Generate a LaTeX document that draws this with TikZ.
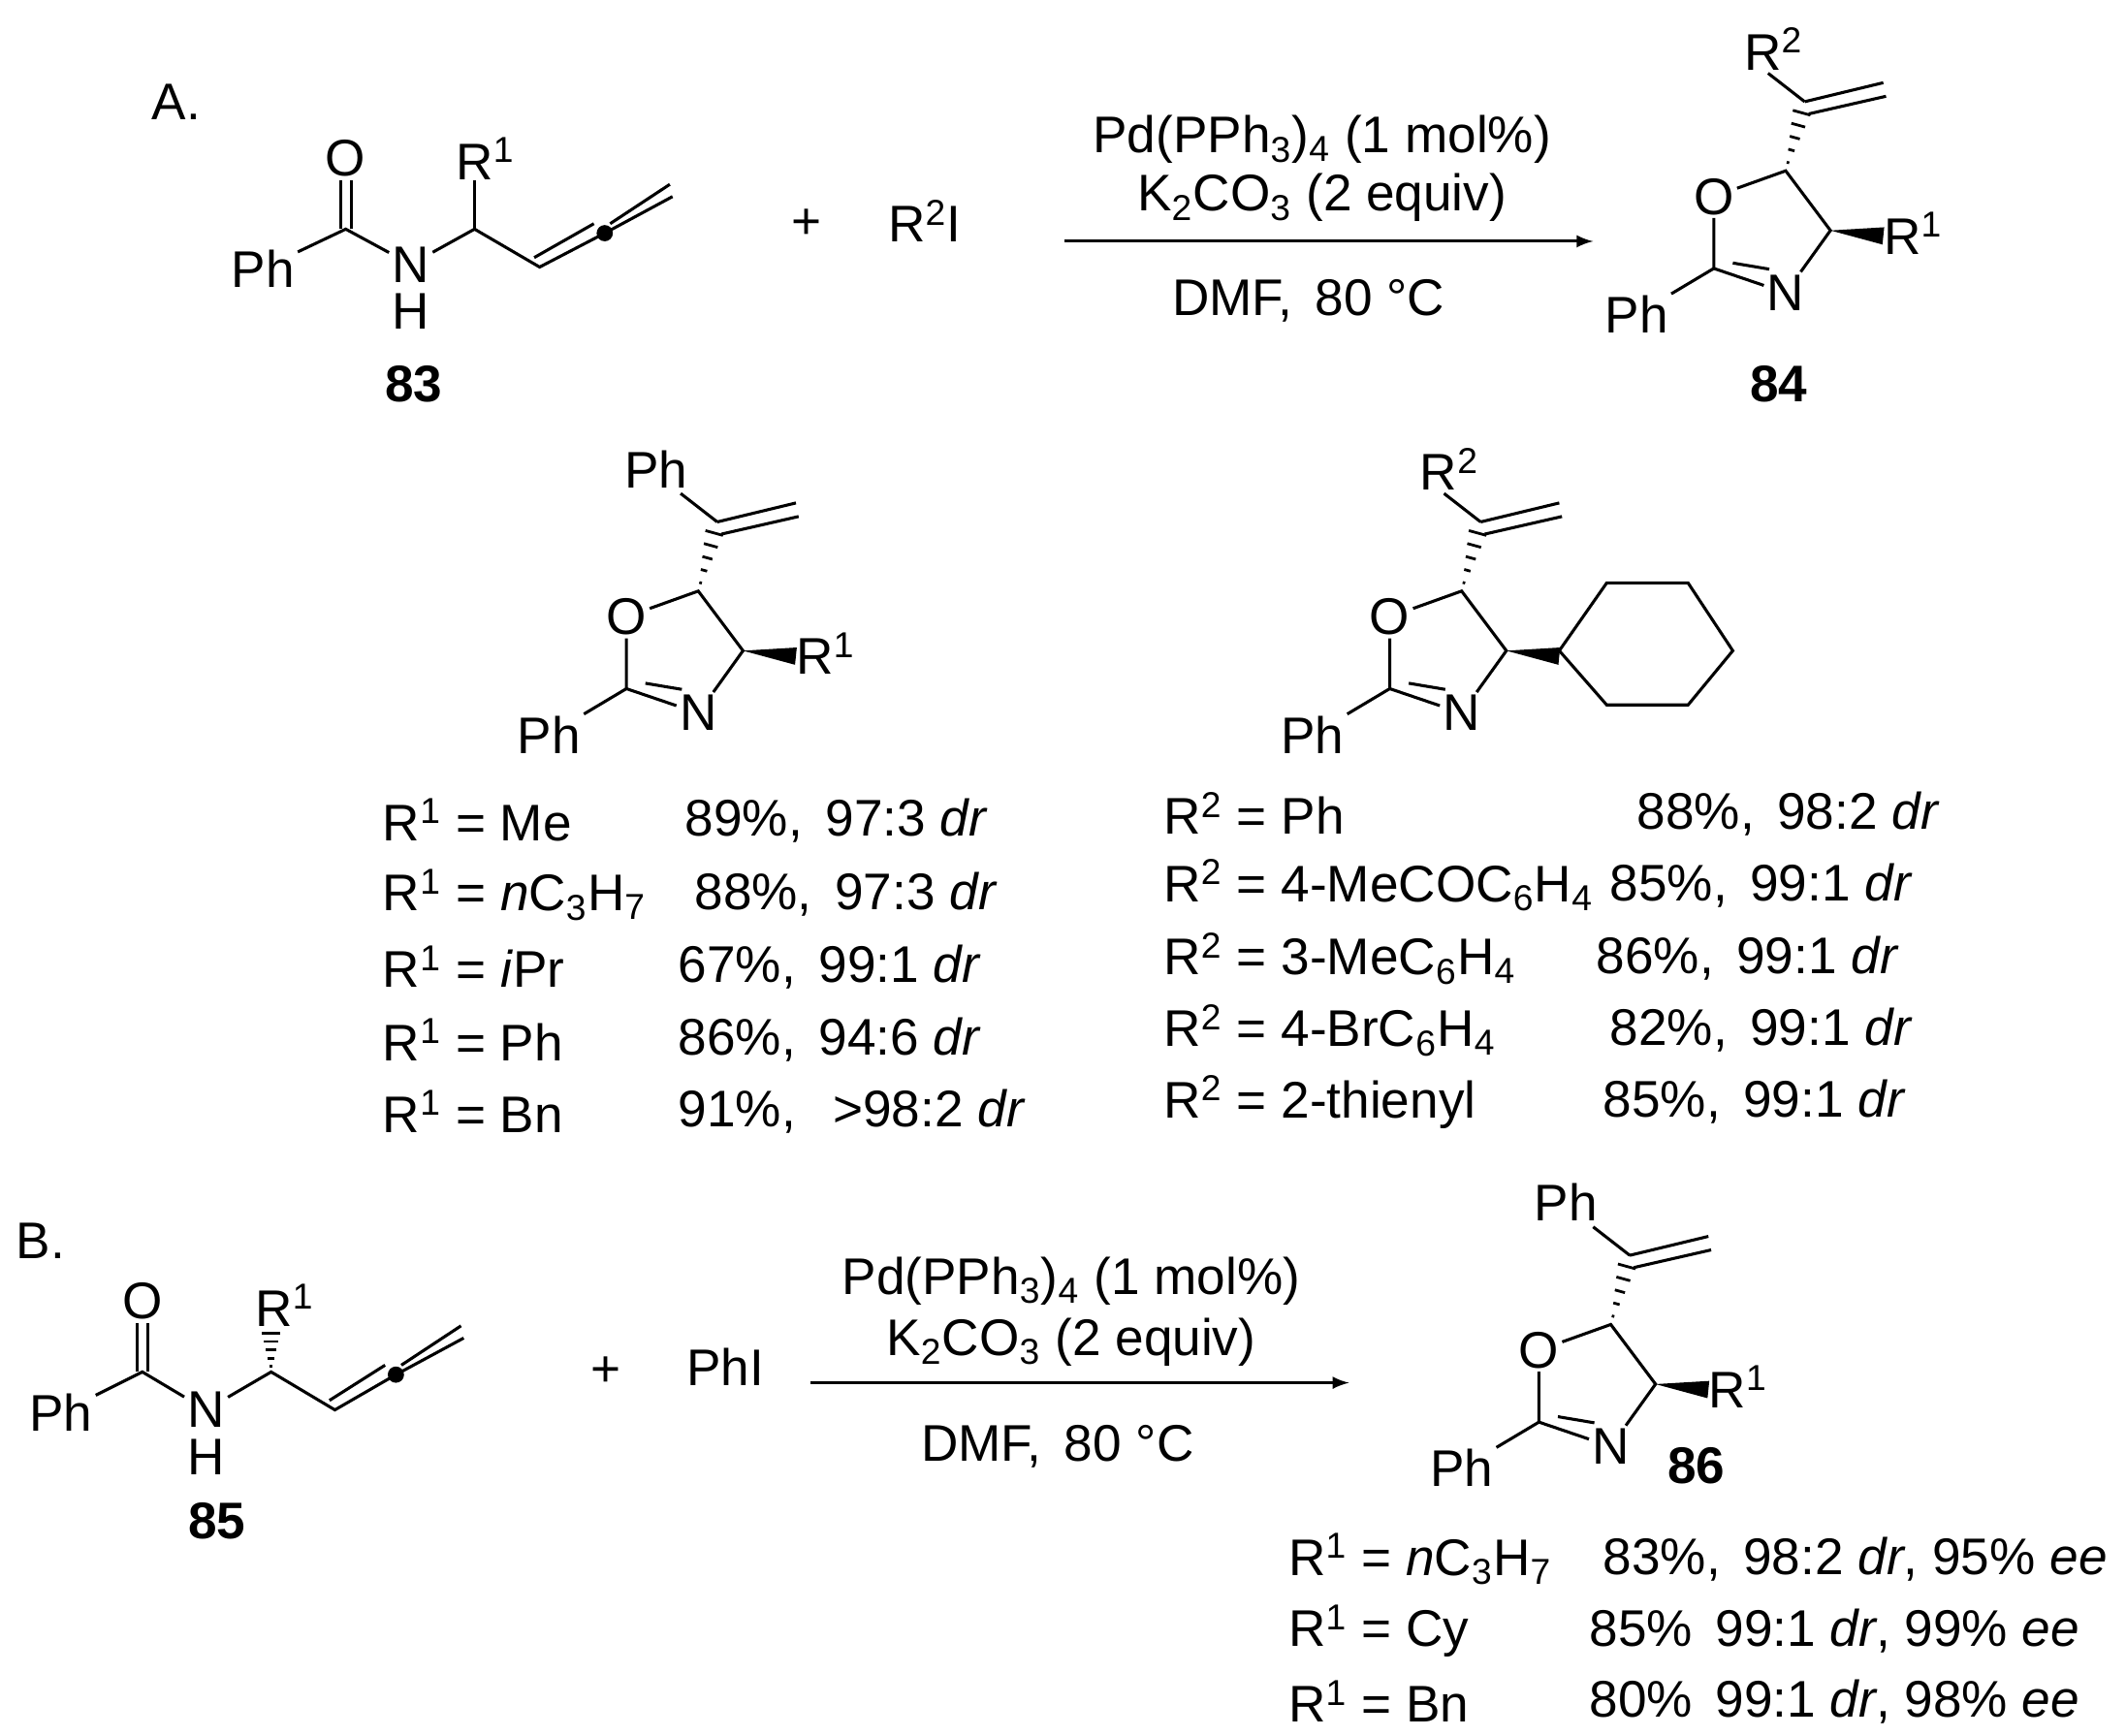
\documentclass[tikz,border=0pt]{standalone}
\usepackage{fontspec}
\setmainfont{Liberation Sans}
\usetikzlibrary{calc}
\tikzset{atom/.style={inner sep=1pt,font=\fontsize{19}{21}\selectfont},
 lbl/.style={anchor=west,inner sep=0pt,font=\fontsize{19}{21}\selectfont},
 bnd/.style={line width=1.1pt},
 arr/.style={line width=1.1pt,-latex}}
\newcommand\sps[1]{\textsuperscript{#1}}
\newcommand\sbs[1]{\textsubscript{#1}}
\newcommand\hashb[2]{\foreach \t in {0.12,0.3,...,0.95}{\draw[line width=1pt] ($(#1)!\t!(#2)!{4pt*\t}!90:(#2)$) -- ($(#1)!\t!(#2)!{4pt*\t}!-90:(#2)$);}}
\newcommand\wedgeb[2]{\fill ($(#1)$) -- ($(#2)!3.2pt!90:(#1)$) -- ($(#2)!3.2pt!-90:(#1)$) -- cycle;}
% oxazoline: #1 name, #2 O position, #3 top label, #4 right label, #5 top label x
\newcommand\oxaz[5]{
 \begin{scope}[shift={#2}]
 \node[atom] (#1O) at (0,0) {O};
 \coordinate (#1C5) at (53,-19);
 \coordinate (#1C4) at (86,25);
 \node[atom] (#1N) at (53,71) {N};
 \coordinate (#1C2) at (0,53);
 \node[atom] (#1Ph) at (-57,87) {Ph};
 \coordinate (#1V) at (67,-70);
 \coordinate (#1E) at (125,-84);
 \coordinate (#1Va) at (70,-61);
 \coordinate (#1Eb) at (127,-74);
 \node[atom] (#1T) at (#5,-109) {#3};
 \coordinate (#1Tb) at (40,-91);
 \coordinate (#1W) at (125,29);
 \node[atom,anchor=west,inner sep=0pt] (#1R) at (125,27) {#4};
 \end{scope}
 \draw[bnd] (#1O) -- (#1C5) -- (#1C4) -- (#1N);
 \draw[bnd] (#1O) -- (#1C2) -- (#1N);
 \draw[bnd] ($(#1C2)+(14,-4)$) -- ($(#1N.north west)+(4,-2)$);
 \draw[bnd] (#1C2) -- (#1Ph);
 \hashb{#1C5}{#1V}
 \draw[bnd] (#1V) -- (#1E);
 \draw[bnd] (#1Va) -- (#1Eb);
 \draw[bnd] (#1V) -- (#1Tb);
 \wedgeb{#1C4}{#1W}
}
\begin{document}
\begin{tikzpicture}[x=0.5pt,y=-0.5pt]
\useasboundingbox (0,0) rectangle (1568,1280);
% ---------- A ----------
\node[atom] (labA) at (130,75) {A.};
\node[atom] (aO) at (255,117) {O};
\coordinate (aC) at (255,169);
\node[atom] (aPh) at (194,198) {Ph};
\node[atom] (aN) at (303,195) {N};
\node[atom] (aH) at (303,230) {H};
\coordinate (aCH) at (350,169);
\node[atom] (aR) at (358,117) {R\sps{1}};
\coordinate (aRb) at (350,133);
\coordinate (aA1) at (398,197);
\coordinate (aA2) at (446,172);
\coordinate (aA3) at (496,145);
\draw[bnd] (aPh) -- (aC) -- (aN) -- (aCH) -- (aA1) -- (aA2) -- (aA3);
\draw[bnd] ($(aC)+(-4,0)$) -- ($(aO.south)+(-4,0)$);
\draw[bnd] ($(aC)+(4,0)$) -- ($(aO.south)+(4,0)$);
\draw[bnd] (aCH) -- (aRb);
\draw[bnd] ($(aA1)+(-4,-7)$) -- ($(aA2)+(-8,-7)$);
\draw[bnd] ($(aA2)+(4,-7)$) -- ($(aA3)+(-2,-9)$);
\fill (aA2) circle (3pt);
\node[atom,font=\fontsize{19}{21}\selectfont\bfseries] (l83) at (305,283) {83};
\node[atom] (plusA) at (595,165) {+};
\node[atom] (r2i) at (682,163) {R\sps{2}I};
\coordinate (arA1) at (785,178);
\coordinate (arA2) at (1175,178);
\draw[arr] (arA1) -- (arA2);
\node[atom] (cA1) at (975,103) {Pd(PPh\sbs{3})\sbs{4} (1 mol\%)};
\node[atom] (cA2) at (975,146) {K\sbs{2}CO\sbs{3} (2 equiv)};
\node[atom] (cA3) at (965,222) {DMF,\, 80 \textdegree C};
\oxaz{p84}{(1264,145)}{R\sps{2}}{R\sps{1}}{44}
\node[atom,font=\fontsize{19}{21}\selectfont\bfseries] (l84) at (1312,283) {84};
% second row
\oxaz{pL}{(462,455)}{Ph}{R\sps{1}}{22}
\oxaz{pR}{(1025,455)}{R\sps{2}}{}{44}
\coordinate (h1) at (1150,480);
\coordinate (h2) at (1185,430);
\coordinate (h3) at (1245,430);
\coordinate (h4) at (1278,480);
\coordinate (h5) at (1245,520);
\coordinate (h6) at (1185,520);
\draw[bnd] (h1) -- (h2) -- (h3) -- (h4) -- (h5) -- (h6) -- cycle;
\node[lbl] (tl1) at (282,605) {R\sps{1} = Me};
\node[lbl] (tl2) at (282,660) {R\sps{1} = \textit{n}C\sbs{3}H\sbs{7}};
\node[lbl] (tl3) at (282,713) {R\sps{1} = \textit{i}Pr};
\node[lbl] (tl4) at (282,767) {R\sps{1} = Ph};
\node[lbl] (tl5) at (282,820) {R\sps{1} = Bn};
\node[lbl] (yl1) at (505,605) {89\%,\, 97:3 \textit{dr}};
\node[lbl] (yl2) at (512,660) {88\%,\, 97:3 \textit{dr}};
\node[lbl] (yl3) at (500,713) {67\%,\, 99:1 \textit{dr}};
\node[lbl] (yl4) at (500,767) {86\%,\, 94:6 \textit{dr}};
\node[lbl] (yl5) at (500,820) {91\%,\, \ >98:2 \textit{dr}};
\node[lbl] (tr1) at (858,600) {R\sps{2} = Ph};
\node[lbl] (tr2) at (858,653) {R\sps{2} = 4-MeCOC\sbs{6}H\sbs{4}};
\node[lbl] (tr3) at (858,707) {R\sps{2} = 3-MeC\sbs{6}H\sbs{4}};
\node[lbl] (tr4) at (858,760) {R\sps{2} = 4-BrC\sbs{6}H\sbs{4}};
\node[lbl] (tr5) at (858,813) {R\sps{2} = 2-thienyl};
\node[lbl] (yr1) at (1207,600) {88\%,\, 98:2 \textit{dr}};
\node[lbl] (yr2) at (1187,653) {85\%,\, 99:1 \textit{dr}};
\node[lbl] (yr3) at (1177,707) {86\%,\, 99:1 \textit{dr}};
\node[lbl] (yr4) at (1187,760) {82\%,\, 99:1 \textit{dr}};
\node[lbl] (yr5) at (1182,813) {85\%,\, 99:1 \textit{dr}};
% ---------- B ----------
\node[atom] (labB) at (30,915) {B.};
\node[atom] (bO) at (105,960) {O};
\coordinate (bC) at (105,1012);
\node[atom] (bPh) at (45,1042) {Ph};
\node[atom] (bN) at (152,1040) {N};
\node[atom] (bH) at (152,1075) {H};
\coordinate (bCH) at (200,1012);
\node[atom] (bR) at (210,963) {R\sps{1}};
\coordinate (bRb) at (200,978);
\coordinate (bA1) at (247,1040);
\coordinate (bA2) at (292,1014);
\coordinate (bA3) at (342,987);
\draw[bnd] (bPh) -- (bC) -- (bN) -- (bCH) -- (bA1) -- (bA2) -- (bA3);
\draw[bnd] ($(bC)+(-4,0)$) -- ($(bO.south)+(-4,0)$);
\draw[bnd] ($(bC)+(4,0)$) -- ($(bO.south)+(4,0)$);
\hashb{bCH}{bRb}
\draw[bnd] ($(bA1)+(-4,-7)$) -- ($(bA2)+(-8,-7)$);
\draw[bnd] ($(bA2)+(4,-7)$) -- ($(bA3)+(-2,-9)$);
\fill (bA2) circle (3pt);
\node[atom,font=\fontsize{19}{21}\selectfont\bfseries] (l85) at (160,1122) {85};
\node[atom] (plusB) at (447,1012) {+};
\node[atom] (phi) at (535,1008) {PhI};
\coordinate (arB1) at (598,1020);
\coordinate (arB2) at (995,1020);
\draw[arr] (arB1) -- (arB2);
\node[atom] (cB1) at (790,945) {Pd(PPh\sbs{3})\sbs{4} (1 mol\%)};
\node[atom] (cB2) at (790,990) {K\sbs{2}CO\sbs{3} (2 equiv)};
\node[atom] (cB3) at (780,1067) {DMF,\, 80 \textdegree C};
\oxaz{p86}{(1135,996)}{Ph}{R\sps{1}}{20}
\node[atom,font=\fontsize{19}{21}\selectfont\bfseries] (l86) at (1251,1081) {86};
\node[lbl] (tb1) at (950,1150) {R\sps{1} = \textit{n}C\sbs{3}H\sbs{7}};
\node[lbl] (tb2) at (950,1203) {R\sps{1} = Cy};
\node[lbl] (tb3) at (950,1255) {R\sps{1} = Bn};
\node[lbl] (yb1) at (1182,1150) {83\%,\, 98:2 \textit{dr}, 95\% \textit{ee}};
\node[lbl] (yb2) at (1172,1203) {85\%\, 99:1 \textit{dr}, 99\% \textit{ee}};
\node[lbl] (yb3) at (1172,1255) {80\%\, 99:1 \textit{dr}, 98\% \textit{ee}};
\end{tikzpicture}
\end{document}
